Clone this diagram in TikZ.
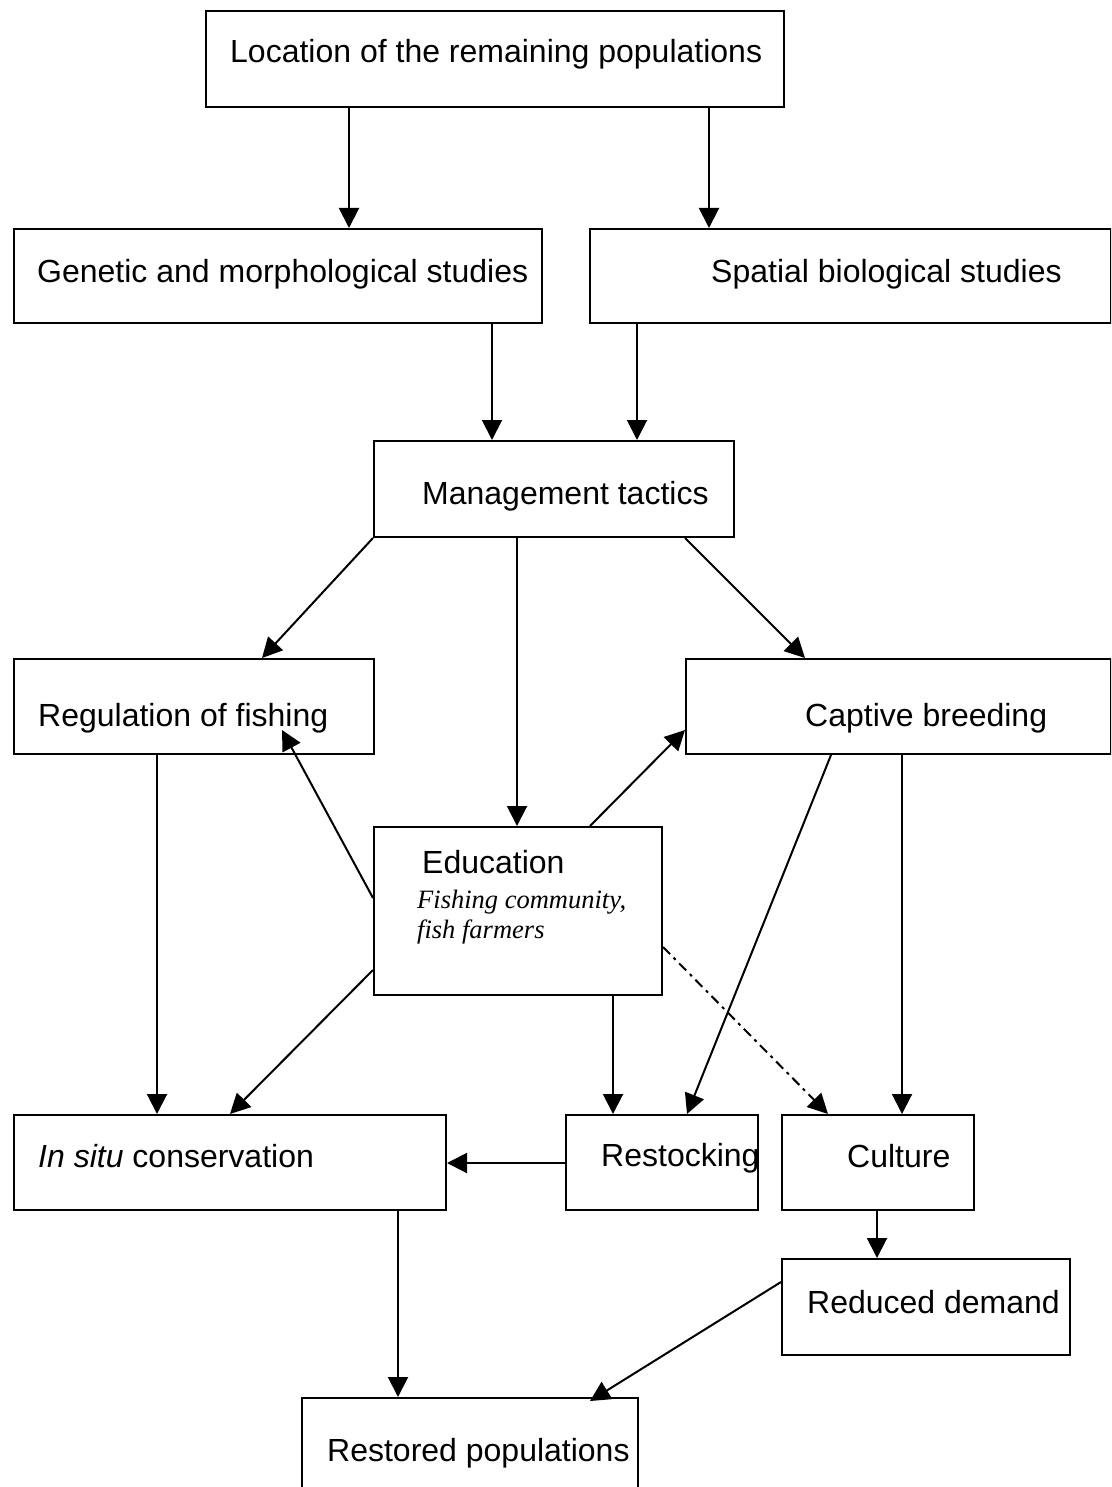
\documentclass[tikz,border=0pt]{standalone}
\usepackage{fontspec}
\setmainfont{Liberation Sans}
\newfontfamily\notefont{Liberation Serif}
\usetikzlibrary{arrows.meta}
\begin{document}
\begin{tikzpicture}[x=1pt,y=-1pt,
  box/.style={draw,line width=2pt,inner sep=0pt,anchor=north west},
  lbl/.style={anchor=base west,inner sep=0pt,font=\fontsize{32}{38}\selectfont},
  note/.style={anchor=base west,inner sep=0pt,font=\notefont\itshape\fontsize{26.5}{30}\selectfont},
  arr/.style={line width=2pt,-{Triangle[length=20pt,width=20pt]}},
  dashdot/.style={arr,dash pattern=on 10pt off 5pt on 3pt off 5pt}]
\useasboundingbox (0,0) rectangle (1111,1487);
\clip (0,0) rectangle (1111,1487);
\fill[white] (0,0) rectangle (1111,1487);

% boxes
\node[box,minimum width=578pt,minimum height=96pt] (loc) at (205,10) {};
\node[box,minimum width=528pt,minimum height=94pt] (gen) at (13,228) {};
\node[box,minimum width=521pt,minimum height=94pt] (spa) at (589,228) {};
\node[box,minimum width=360pt,minimum height=96pt] (man) at (373,440) {};
\node[box,minimum width=360pt,minimum height=95pt] (reg) at (13,658) {};
\node[box,minimum width=425pt,minimum height=95pt] (cap) at (685,658) {};
\node[box,minimum width=288pt,minimum height=168pt] (edu) at (373,826) {};
\node[box,minimum width=432pt,minimum height=95pt] (ins) at (13,1114) {};
\node[box,minimum width=192pt,minimum height=95pt] (res) at (565,1114) {};
\node[box,minimum width=192pt,minimum height=95pt] (cul) at (781,1114) {};
\node[box,minimum width=288pt,minimum height=96pt] (red) at (781,1258) {};
\node[box,minimum width=336pt,minimum height=110pt] (rst) at (301,1397) {};

% labels
\node[lbl] (tloc) at (230,63) {Location of the remaining populations};
\node[lbl] (tgen) at (37,283) {Genetic and morphological studies};
\node[lbl] (tspa) at (711,283) {Spatial biological studies};
\node[lbl] (tman) at (422,504) {Management tactics};
\node[lbl] (treg) at (38,726) {Regulation of fishing};
\node[lbl] (tcap) at (805,726) {Captive breeding};
\node[lbl] (tedu) at (422,873) {Education};
\node[note] (tedu1) at (417,908) {Fishing community,};
\node[note] (tedu2) at (417,938) {fish farmers};
\node[lbl] (tins) at (38,1167) {{\itshape In situ} conservation};
\node[lbl] (tres) at (601,1166) {Restocking};
\node[lbl] (tcul) at (847,1167) {Culture};
\node[lbl] (tred) at (807,1313) {Reduced demand};
\node[lbl] (trst) at (327,1461) {Restored populations};

% connectors
\draw[arr] ([xshift=144pt]loc.south west) -- ([xshift=336pt]gen.north west);
\draw[arr] ([xshift=504pt]loc.south west) -- ([xshift=120pt]spa.north west);
\draw[arr] ([xshift=479pt]gen.south west) -- ([xshift=119pt]man.north west);
\draw[arr] ([xshift=48pt]spa.south west) -- ([xshift=264pt]man.north west);
\draw[arr] (man.south west) -- ([xshift=249pt]reg.north west);
\draw[arr] ([xshift=144pt]man.south west) -- ([xshift=144pt]edu.north west);
\draw[arr] ([xshift=312pt]man.south west) -- ([xshift=120pt]cap.north west);
\draw[arr] ([xshift=144pt]reg.south west) -- ([xshift=144pt]ins.north west);
\draw[arr] ([yshift=-72pt]edu.north west) -- ([shift={(269pt,-72pt)}]reg.north west);
\draw[arr] ([xshift=217pt]edu.north west) -- ([yshift=-72pt]cap.north west);
\draw[arr] ([yshift=-144pt]edu.north west) -- ([xshift=217pt]ins.north west);
\draw[arr] ([xshift=240pt]edu.south west) -- ([xshift=48pt]res.north west);
\draw[dashdot] ([yshift=-121pt]edu.north east) -- ([xshift=47pt]cul.north west);
\draw[arr] ([xshift=146pt]cap.south west) -- ([xshift=122pt]res.north west);
\draw[arr] ([xshift=217pt]cap.south west) -- ([xshift=121pt]cul.north west);
\draw[arr] ([yshift=-49pt]res.north west) -- ([yshift=-49pt]ins.north east);
\draw[arr] ([xshift=96pt]cul.south west) -- ([xshift=96pt]red.north west);
\draw[arr] ([xshift=385pt]ins.south west) -- ([xshift=97pt]rst.north west);
\draw[arr] ([yshift=-24pt]red.north west) -- ([shift={(289pt,-4pt)}]rst.north west);
\end{tikzpicture}
\end{document}
